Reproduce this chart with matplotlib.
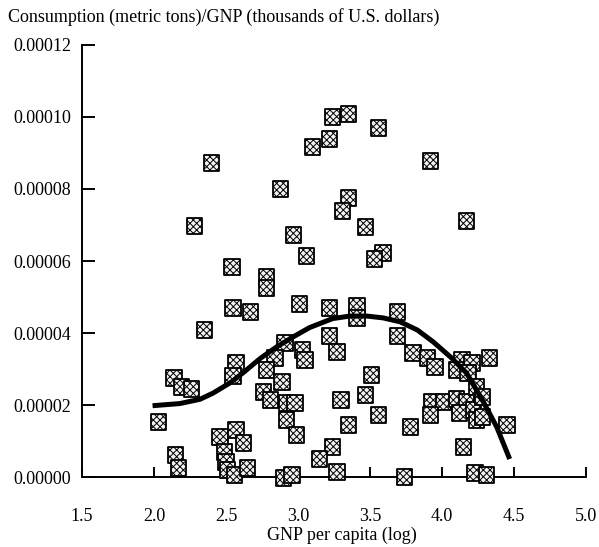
import numpy as np
import matplotlib
matplotlib.use("Agg")
import matplotlib.pyplot as plt

plt.rcParams["font.family"] = ["Liberation Serif", "DejaVu Serif"]
plt.rcParams["hatch.linewidth"] = 0.7

# Log GNP per capita for each country
gnp_log = [
    3.24, 3.35, 3.56, 3.22, 3.10, 2.40, 3.92, 2.88, 3.35, 3.31,
    3.47, 2.28, 4.17, 2.97, 3.06, 3.59, 3.53, 2.54, 2.78, 2.78,
    3.01, 2.55, 2.67, 2.35, 3.22, 3.41, 3.41, 3.69, 3.22, 3.27,
    3.69, 2.91, 3.03, 3.05, 2.84, 2.57, 2.78, 2.55, 2.89, 2.14,
    2.19, 2.26, 2.76, 2.81, 2.92, 2.98, 2.92, 2.99, 2.03, 2.46,
    2.57, 2.62, 2.49, 2.50, 2.51, 2.56, 2.65, 2.15, 2.17, 2.90,
    2.96, 3.80, 3.90, 3.95, 3.51, 4.14, 4.21, 4.10, 4.18, 3.47,
    3.30, 3.56, 3.35, 3.78, 3.93, 4.01, 3.92, 4.10, 4.17, 4.12,
    4.22, 4.24, 4.24, 4.15, 3.24, 3.15, 3.27, 3.74, 4.23, 4.31,
    4.33, 4.45, 4.28, 4.28,
]

# Consumption / GNP ratio (in units of 1e-5)
ratio_e5 = [
    10.00, 10.08, 9.69, 9.39, 9.17, 8.72, 8.78, 8.00, 7.75, 7.39,
    6.94, 6.97, 7.11, 6.72, 6.14, 6.22, 6.06, 5.83, 5.56, 5.25,
    4.81, 4.69, 4.58, 4.08, 4.69, 4.75, 4.42, 4.58, 3.92, 3.47,
    3.92, 3.72, 3.53, 3.25, 3.31, 3.17, 2.97, 2.81, 2.64, 2.75,
    2.50, 2.44, 2.36, 2.14, 2.06, 2.06, 1.58, 1.17, 1.53, 1.11,
    1.31, 0.94, 0.69, 0.42, 0.19, 0.06, 0.25, 0.61, 0.25, -0.03,
    0.06, 3.44, 3.31, 3.06, 2.83, 3.25, 3.17, 2.97, 2.89, 2.28,
    2.14, 1.72, 1.44, 1.39, 2.08, 2.08, 1.72, 2.17, 2.08, 1.78,
    1.86, 2.50, 1.58, 0.83, 0.83, 0.50, 0.14, 0.00, 0.11, 0.06,
    3.31, 1.44, 2.22, 1.67,
]

# Fitted curve, sampled along log GNP
fit_x = [1.99, 2.18, 2.32, 2.41, 2.53, 2.62, 2.74, 2.85, 2.97, 3.08,
         3.24, 3.36, 3.48, 3.59, 3.71, 3.83, 3.94, 4.06, 4.17, 4.28,
         4.38, 4.47]
fit_y_e5 = [1.98, 2.04, 2.16, 2.33, 2.62, 2.90, 3.30, 3.61, 3.90, 4.15,
            4.40, 4.47, 4.47, 4.42, 4.31, 4.08, 3.75, 3.33, 2.89, 2.14,
            1.39, 0.50]

x_ticks = [1.5, 2.0, 2.5, 3.0, 3.5, 4.0, 4.5, 5.0]
y_ticks = [0.0, 0.00002, 0.00004, 0.00006, 0.00008, 0.00010, 0.00012]

ratio = np.array(ratio_e5) * 1e-5
fit_y = np.array(fit_y_e5) * 1e-5

W, H = 599, 547
fig = plt.figure(figsize=(W / 100, H / 100), dpi=100)
ax = fig.add_axes([82 / W, 70 / H, 504 / W, 432 / H])

ax.scatter(gnp_log, ratio, s=125, marker="s", facecolor="#f2f2f2",
           edgecolor="black", linewidth=1.3, hatch="xxxxx",
           clip_on=False, zorder=3)
ax.plot(fit_x, fit_y, color="black", lw=3.6, solid_capstyle="butt",
        solid_joinstyle="round", zorder=4)

ax.set_xlim(1.5, 5.0)
ax.set_ylim(0, 0.00012)
ax.set_xticks(x_ticks)
ax.set_xticklabels([f"{v:.1f}" for v in x_ticks])
ax.set_yticks(y_ticks)
ax.set_yticklabels([f"{v:.5f}" for v in y_ticks])

for side in ("top", "right"):
    ax.spines[side].set_visible(False)
for side in ("left", "bottom"):
    ax.spines[side].set_linewidth(1.4)

ax.tick_params(axis="y", direction="in", length=9, width=1.4, pad=8,
               labelsize=13)
ax.tick_params(axis="x", direction="in", length=7, width=1.4, pad=22,
               labelsize=13)

fig.text(8 / W, 1 - 17 / H,
         "Consumption (metric tons)/GNP (thousands of U.S. dollars)",
         ha="left", va="center", fontsize=13)
fig.text(342 / W, 1 - 535 / H, "GNP per capita (log)",
         ha="center", va="center", fontsize=13)

fig.savefig("out.png", dpi=100, facecolor="white")
